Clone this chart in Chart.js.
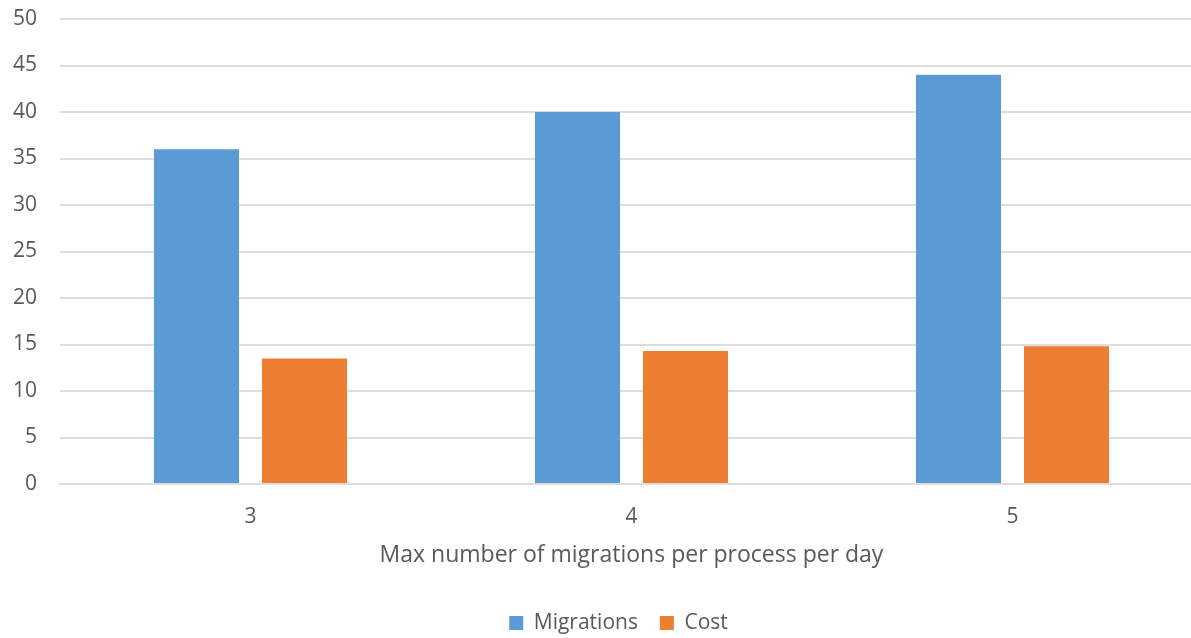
<!DOCTYPE html>
<html>
<head>
<style>
    body {
        margin: 0;
        background-color: white;
        overflow: hidden;
    }
</style>
<script src="https://cdn.jsdelivr.net/npm/chart.js@4.4.1/dist/chart.umd.min.js"></script>
<script type="text/javascript">

    var categories = ["3", "4", "5"];
    var migrations = [36, 40, 44];
    var cost = [13.5, 14.3, 14.8];
    var yTicks = [0, 5, 10, 15, 20, 25, 30, 35, 40, 45, 50];

    var textColor = '#595959';
    var gridColor = '#dddddd';

    function drawChart()
    {
        const data = {
            labels: categories,
            datasets: [{
                label: 'Migrations',
                data: migrations,
                backgroundColor: '#5b9bd5',
                barPercentage: 0.787,
                categoryPercentage: 0.567
            }, {
                label: 'Cost',
                data: cost,
                backgroundColor: '#ed7d31',
                barPercentage: 0.787,
                categoryPercentage: 0.567
            }]
        };

        const config = {
            type: 'bar',
            data: data,
            options: {
                responsive: false,
                animation: false,
                layout: {
                    padding: { top: 19, bottom: -5.5, left: 0, right: 0 }
                },
                plugins: {
                    legend: {
                        position: 'bottom',
                        labels: {
                            color: textColor,
                            font: { family: 'Open Sans', size: 21 },
                            boxWidth: 14,
                            boxHeight: 14,
                            padding: 22
                        }
                    },
                    tooltip: { enabled: false }
                },
                scales: {
                    x: {
                        afterFit: function(scale) {
                            scale.height = 106.5;
                        },
                        grid: { display: false, drawTicks: false },
                        border: { color: gridColor, width: 2 },
                        ticks: {
                            color: textColor,
                            font: { family: 'Open Sans', size: 21 },
                            padding: 20
                        },
                        title: {
                            display: true,
                            text: 'Max number of migrations per process per day',
                            color: textColor,
                            font: { family: 'Open Sans', size: 23 },
                            padding: { top: 0, bottom: 21 }
                        }
                    },
                    y: {
                        min: 0,
                        max: 50,
                        afterBuildTicks: function(scale) {
                            scale.ticks = yTicks.map(v => ({ value: v }));
                        },
                        afterFit: function(scale) {
                            scale.width = 60;
                            scale.paddingTop = 0;
                            scale.paddingBottom = 0;
                        },
                        grid: { color: gridColor, lineWidth: 2, drawTicks: false },
                        border: { display: false },
                        ticks: {
                            color: textColor,
                            font: { family: 'Open Sans', size: 21 },
                            padding: 23
                        }
                    },
                    yRight: {
                        position: 'right',
                        min: 0,
                        max: 50,
                        afterFit: function(scale) {
                            scale.width = 34;
                            scale.paddingTop = 0;
                            scale.paddingBottom = 0;
                        },
                        grid: { drawOnChartArea: false, drawTicks: false },
                        border: { display: false },
                        ticks: { display: false }
                    }
                }
            }
        };

        new Chart(document.getElementById('barChart'), config);
    }
</script>
</head>
<body onload="drawChart()">
    <canvas id="barChart" width="1237" height="638"></canvas>
</body>
</html>
